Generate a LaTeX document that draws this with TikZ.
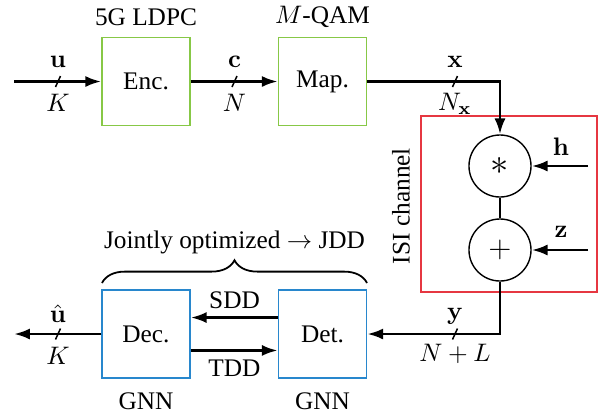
\documentclass[tikz,border=0pt]{standalone}
\usepackage[no-math]{fontspec}
\setmainfont{Liberation Serif}
\usetikzlibrary{arrows.meta,decorations.pathreplacing}
\definecolor{gbox}{RGB}{135,200,70}
\definecolor{bbox}{RGB}{40,135,205}
\definecolor{rbox}{RGB}{230,55,65}
\begin{document}
\begin{tikzpicture}[x=0.395pt,y=-0.395pt,
  blk/.style={draw,line width=0.55pt,minimum width=34.8pt,minimum height=34.8pt,inner sep=0pt,font=\fontsize{10}{12}\selectfont},
  circ/.style={draw,circle,line width=0.55pt,minimum size=24.5pt,inner sep=0pt},
  arr/.style={line width=1.1pt,-{Latex[length=6.3pt,width=4.4pt]}},
  ln/.style={line width=1.1pt},
  tk/.style={line width=0.6pt},
  lbl/.style={font=\fontsize{10}{12}\selectfont,inner sep=0pt}]
\useasboundingbox (0,0) rectangle (603,413);
% blocks
\node[blk,draw=gbox] (enc) at (146,81.5) {Enc.};
\node[blk,draw=gbox] (map) at (322.5,81.5) {Map.};
\node[blk,draw=bbox] (dec) at (146,334) {Dec.};
\node[blk,draw=bbox] (det) at (322.5,334) {Det.};
\node[lbl] (ldpc) at (146,17) {5G LDPC};
\node[lbl] (qam) at (322.5,17) {$M$-QAM};
\node[lbl] (gnn1) at (146,401) {GNN};
\node[lbl] (gnn2) at (322.5,401) {GNN};
% channel
\draw[rbox,line width=0.55pt] (421,116) rectangle (597,292);
\node[lbl,rotate=90] (isi) at (401,206) {ISI channel};
\node[circ] (conv) at (500,166) {\Large$*$};
\node[circ] (add) at (500,250) {\large$+$};
\coordinate (hin) at (588,166);
\coordinate (zin) at (588,250);
\node[lbl] (hl) at (561,147) {$\mathbf{h}$};
\node[lbl] (zl) at (561,232) {$\mathbf{z}$};
\draw[arr] (hin) -- (conv);
\draw[arr] (zin) -- (add);
\draw[line width=0.55pt] (conv) -- (add);
% inputs/outputs
\coordinate (uin) at (14,81.5);
\coordinate (uout) at (14,334);
\coordinate (xc) at (500,81.5);
\coordinate (yc) at (500,334);
\draw[arr] (uin) -- (enc);
\draw[arr] (enc) -- (map);
\draw[arr] (map.east) -- (xc) -- (conv.north);
\draw[arr] (add.south) -- (yc) -- (det.east);
\draw[arr] (dec) -- (uout);
\draw[arr] ([yshift=6.5pt]det.west) -- ([yshift=6.5pt]dec.east);
\draw[arr] ([yshift=-6.5pt]dec.east) -- ([yshift=-6.5pt]det.west);
% ticks
\coordinate (t1) at (58,81.5);
\coordinate (t2) at (234.5,81.5);
\coordinate (t3) at (455,81.5);
\coordinate (t4) at (455,334);
\coordinate (t5) at (58,334);
\foreach \t in {t1,t2,t3,t4,t5}
  \draw[tk] ([shift={(-2.5,5.5)}]\t) -- ([shift={(2.5,-5.5)}]\t);
% labels
\node[lbl] (ul) at (58,62) {$\mathbf{u}$};
\node[lbl] (kl) at (58,103) {$K$};
\node[lbl] (cl) at (234.5,62) {$\mathbf{c}$};
\node[lbl] (nl) at (234.5,103) {$N$};
\node[lbl] (xl) at (455,62) {$\mathbf{x}$};
\node[lbl] (nxl) at (455,104) {$N_{\mathbf{x}}$};
\node[lbl] (yl) at (455,316) {$\mathbf{y}$};
\node[lbl] (nll) at (455,354) {$N+L$};
\node[lbl] (uhl) at (58,314) {$\hat{\mathbf{u}}$};
\node[lbl] (kl2) at (58,356) {$K$};
\node[lbl] (sdd) at (234.5,300) {SDD};
\node[lbl] (tdd) at (234.5,368) {TDD};
% brace
\draw[line width=0.7pt,decorate,decoration={brace,amplitude=9pt}] (102,283) -- (367,283);
\node[lbl] (jdd) at (234.5,242) {Jointly optimized $\rightarrow$ JDD};
\end{tikzpicture}
\end{document}
